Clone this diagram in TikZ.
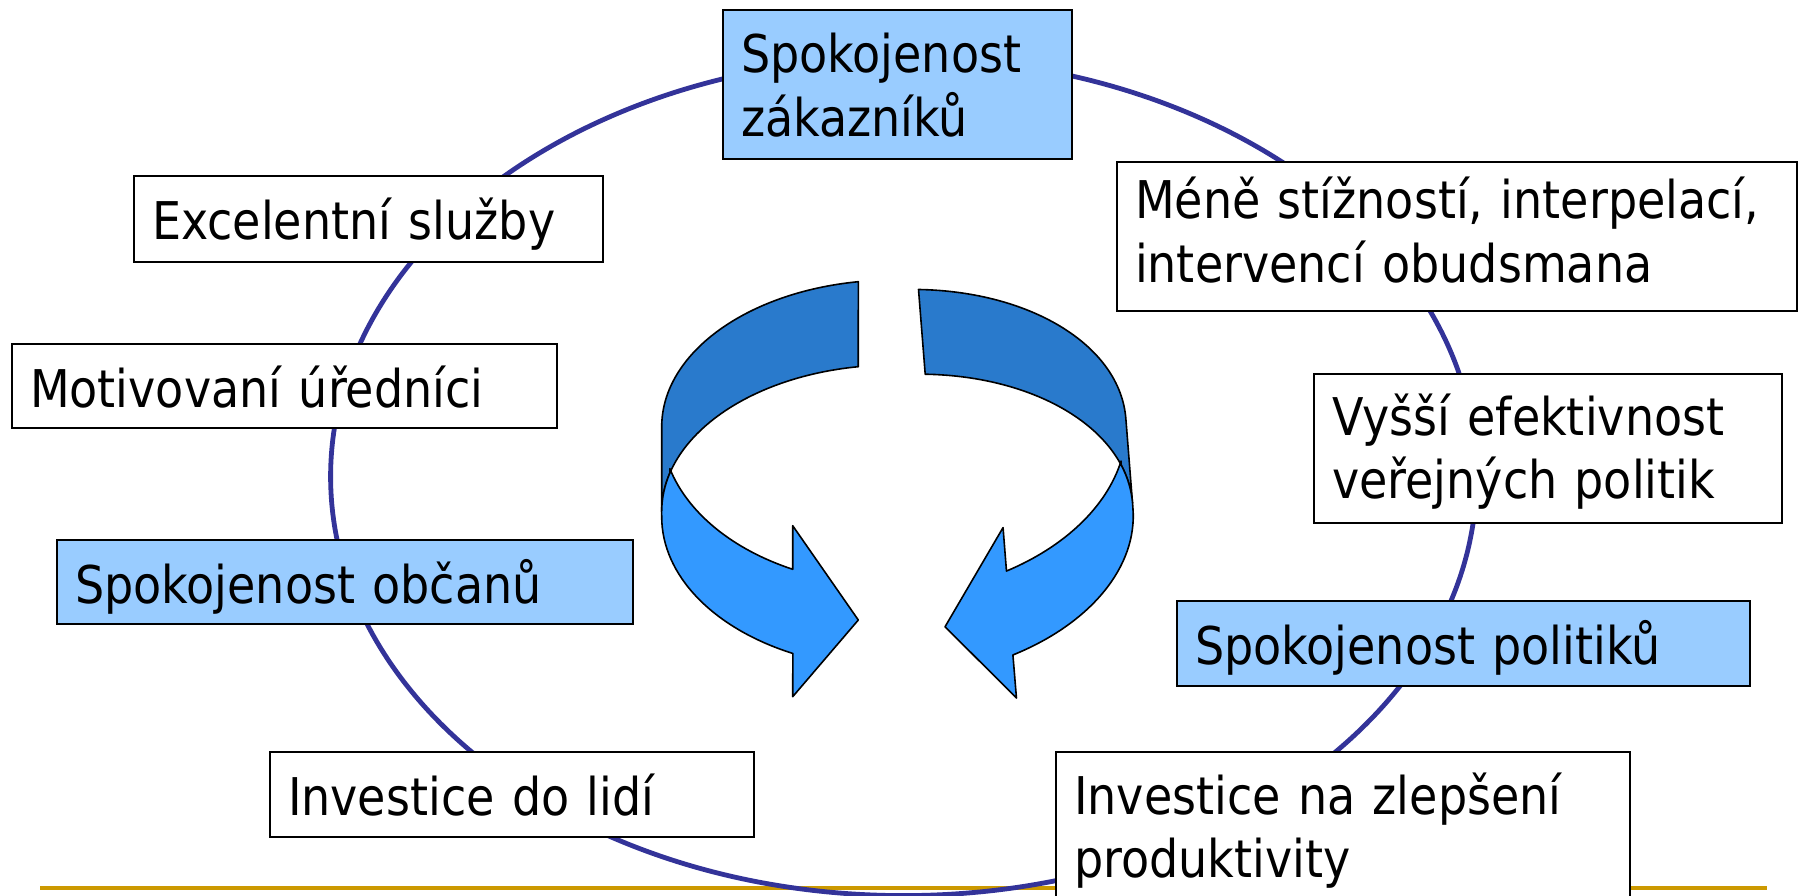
\documentclass[tikz,border=0pt]{standalone}
\usepackage{fontspec}
\setmainfont{DejaVu Sans}[FakeStretch=0.885]
\definecolor{ringblue}{HTML}{333399}
\definecolor{boxblue}{HTML}{99CCFF}
\definecolor{banddark}{HTML}{297ACC}
\definecolor{bandlight}{HTML}{3399FF}
\definecolor{rulegold}{HTML}{CC9900}
\newcommand{\loopArrowShape}{%
  \filldraw[darkband] (858.3,281.7)
    arc[start angle=261.3, end angle=180, x radius=231.6, y radius=146.7]
    -- (661.7,511.7)
    arc[start angle=180, end angle=261.3, x radius=231.6, y radius=146.7]
    -- cycle;
  \filldraw[lightband] (670,472.7)
    arc[start angle=195.4, end angle=180, x radius=231.6, y radius=146.7]
    -- (661.7,516.7)
    arc[start angle=180, end angle=115.7, x radius=231.6, y radius=151.8]
    -- (792.7,696.7) -- (858.3,620) -- (792.7,525.7) -- (792.7,569.3)
    arc[start angle=115.7, end angle=164.6, x radius=231.6, y radius=158.4]
    -- cycle;
}
\begin{document}
\begin{tikzpicture}[x=1pt,y=-1pt,
  txtbox/.style={draw=black, line width=2pt, fill=white, rectangle, anchor=north west,
    inner xsep=18pt, inner ysep=0pt, align=left, font=\fontsize{52}{63.5}\selectfont},
  bluebox/.style={txtbox, fill=boxblue},
  oneline/.style={text height=42pt, text depth=0pt},
  ring/.style={draw=ringblue, line width=4.8pt},
  goldrule/.style={draw=rulegold, line width=4pt},
  darkband/.style={fill=banddark, draw=black, line width=1.6pt, line join=round},
  lightband/.style={fill=bandlight, draw=black, line width=1.6pt, line join=round}]
\useasboundingbox (0,0) rectangle (1805,896);

% bottom rule
\coordinate (ruleL) at (40,888);
\coordinate (ruleR) at (1767,888);
\draw[goldrule] (ruleL) -- (ruleR);

% the cycle ring
\draw[ring] (903.6,476.6) ellipse [x radius=573, y radius=419];

% boxes
\node[bluebox, minimum width=349pt, minimum height=149pt, text width=313pt,
  text height=38pt, text depth=61pt] (zak) at (722,9) {Spokojenost\\zákazníků};
\node[txtbox, oneline, minimum width=469pt, minimum height=86pt, text width=433pt]
  (exc) at (133,175) {Excelentní služby};
\node[txtbox, oneline, minimum width=545pt, minimum height=84pt, text width=509pt]
  (mot) at (11,343) {Motivovaní úředníci};
\node[bluebox, oneline, minimum width=576pt, minimum height=84pt, text width=540pt]
  (obc) at (56,539) {Spokojenost občanů};
\node[txtbox, oneline, minimum width=484pt, minimum height=85pt, text width=448pt]
  (lidi) at (269,751) {Investice do lidí};
\node[txtbox, minimum width=680pt, minimum height=149pt, text width=644pt,
  text height=38pt, text depth=73pt] (mene) at (1116,161)
  {\mbox{Méně stížností, interpelací,}\\intervencí obudsmana};
\node[txtbox, minimum width=468pt, minimum height=149pt, text width=432pt,
  text height=38pt, text depth=65pt] (vyssi) at (1313,373)
  {Vyšší efektivnost\\veřejných politik};
\node[bluebox, oneline, minimum width=573pt, minimum height=85pt, text width=537pt]
  (pol) at (1176,600) {Spokojenost politiků};
\node[txtbox, minimum width=574pt, minimum height=149pt, text width=538pt,
  text height=38pt, text depth=63pt] (zlep) at (1055,751)
  {Investice na zlepšení\\produktivity};

% curved arrows
\loopArrowShape
\begin{scope}[shift={(1030.5,454.5)}, rotate=4.5, shift={(-133.7,-455)}, xscale=-1, shift={(-893.3,0)}]
\loopArrowShape
\end{scope}
\end{tikzpicture}
\end{document}
